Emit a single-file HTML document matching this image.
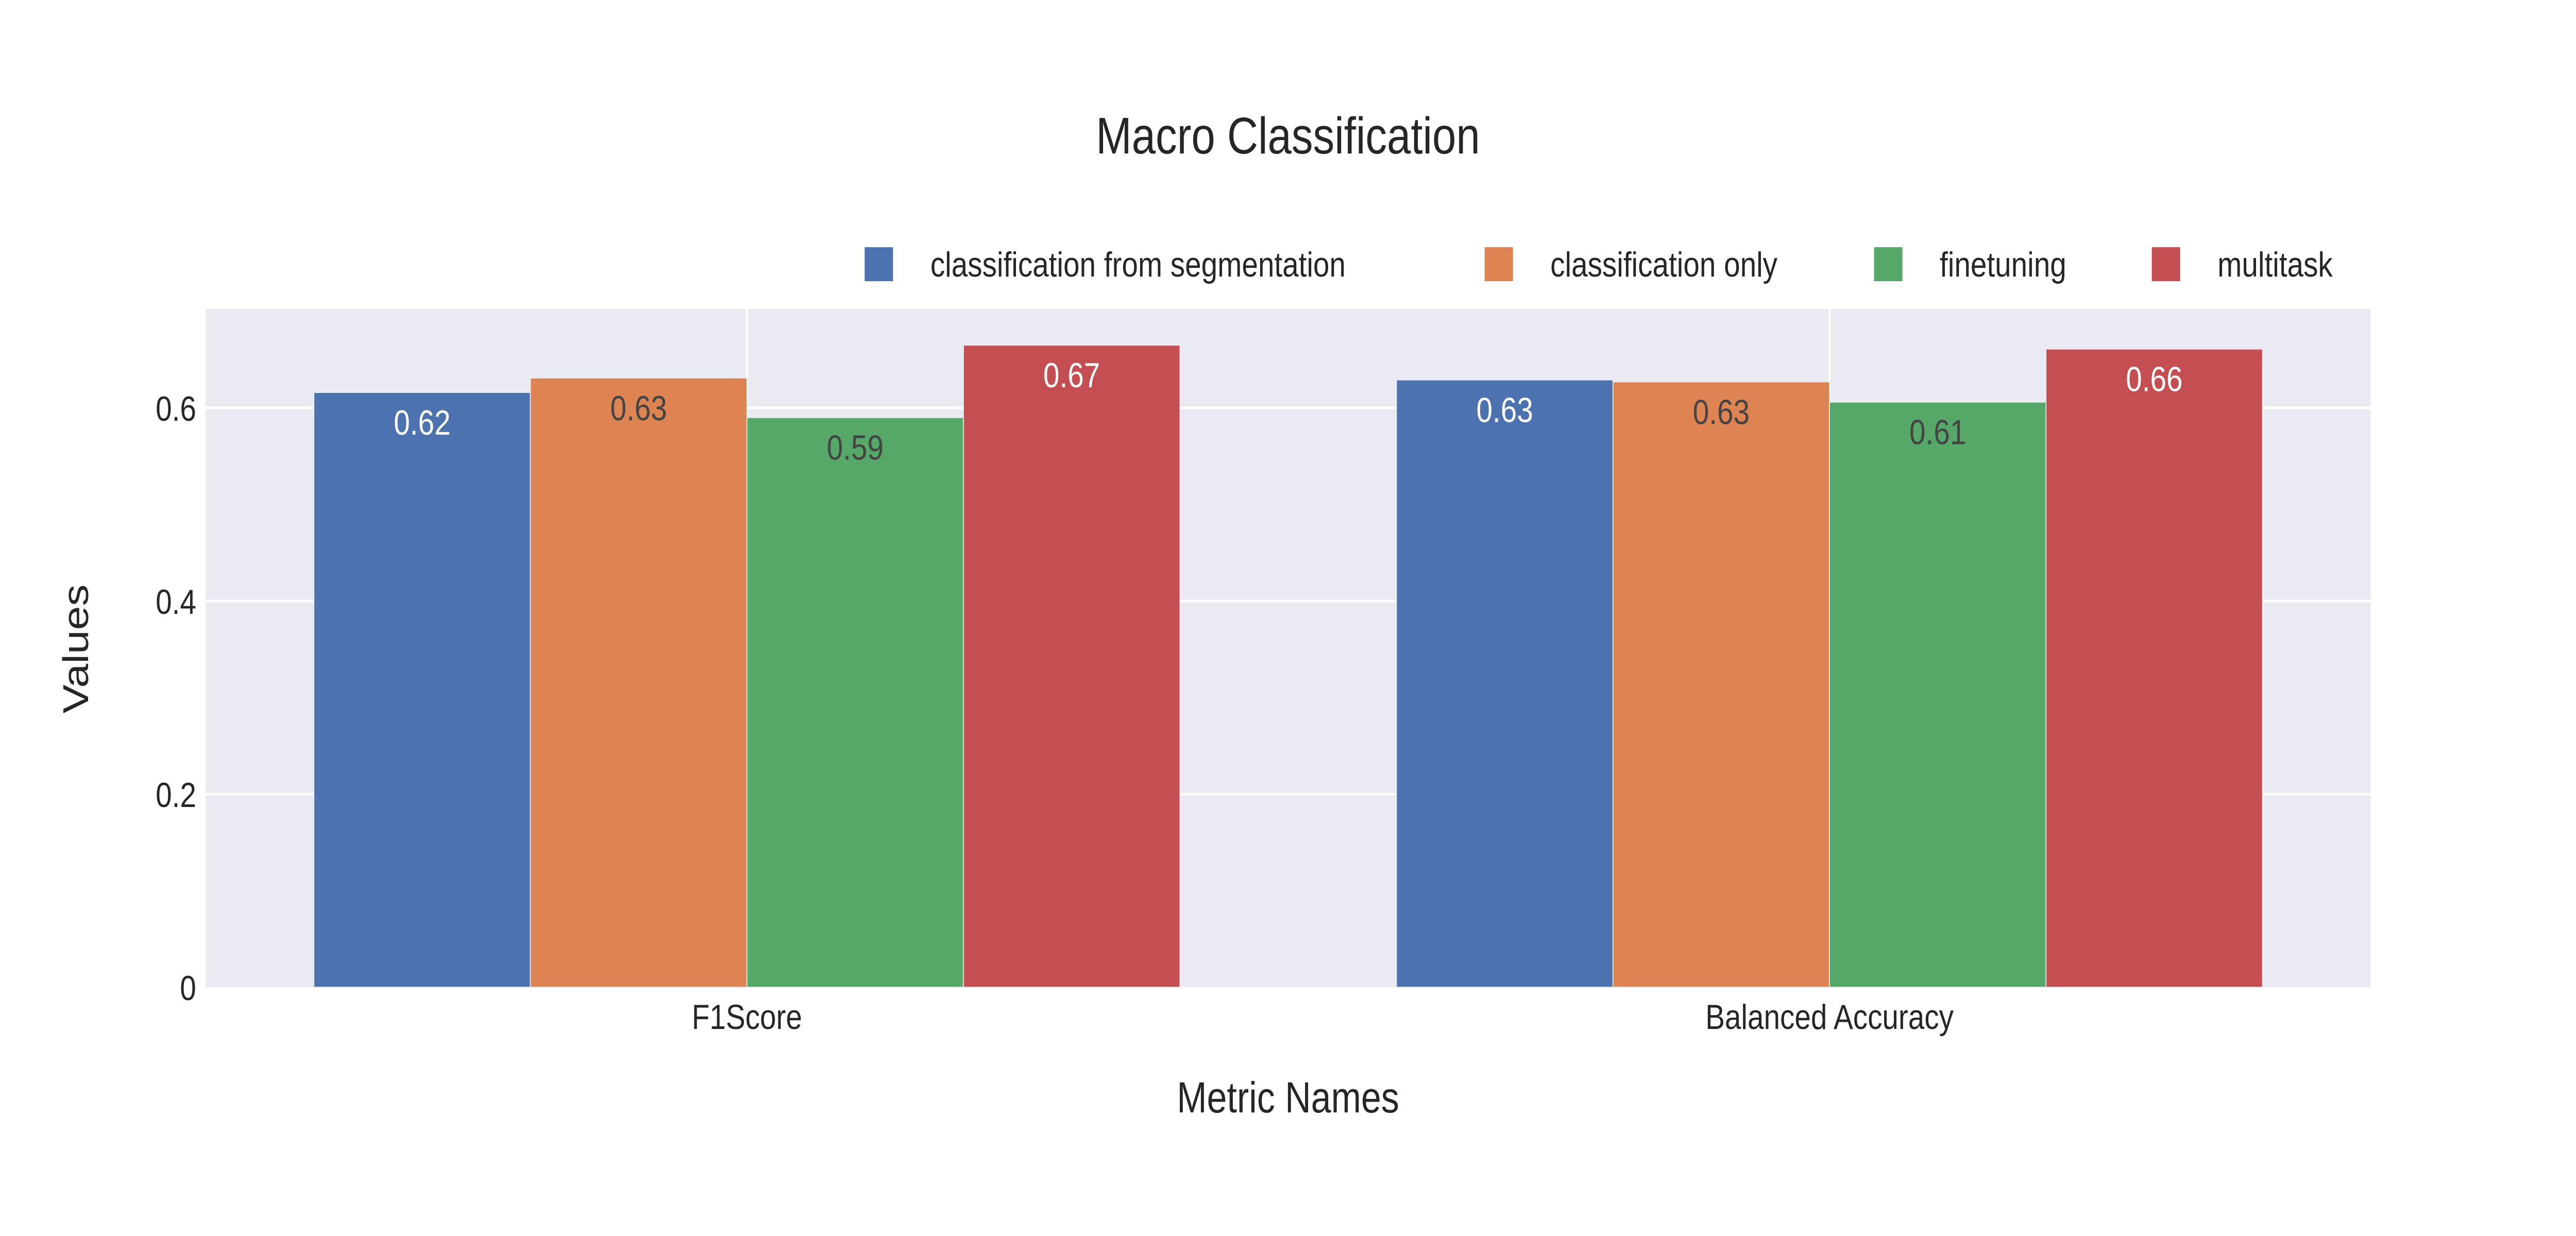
<!DOCTYPE html>
<html><head><meta charset="utf-8"><style>
html,body{margin:0;padding:0;background:#fff;width:100%;height:100%;overflow:hidden}
svg{display:block;font-family:"Liberation Sans",sans-serif;position:fixed;left:0;top:0;width:100vw;height:100vh}
</style></head><body>
<svg id="chart" viewBox="0 0 6000 2400" preserveAspectRatio="none" xmlns="http://www.w3.org/2000/svg">
<rect x="479" y="600" width="5043" height="1317" fill="#EAEAF2"/>
<g id="grid"></g>
<g id="bars"></g>
<g id="labels"></g>
<text x="3000" y="298" font-size="100" text-anchor="middle" fill="#262626">Macro Classification</text>
<text x="3000" y="2160" font-size="84" text-anchor="middle" fill="#262626">Metric Names</text>
<text transform="translate(205,1260) rotate(-90)" font-size="84" text-anchor="middle" fill="#262626">Values</text>
<g id="legend"></g>
</svg>
<script>
const categories = ["F1Score", "Balanced Accuracy"];
const seriesNames = ["classification from segmentation", "classification only", "finetuning", "multitask"];
const seriesA = [0.616, 0.629];
const seriesB = [0.631, 0.627];
const seriesC = [0.590, 0.606];
const seriesD = [0.665, 0.661];
const valueLabels = [["0.62","0.63"],["0.63","0.63"],["0.59","0.61"],["0.67","0.66"]];
const yTicks = [0, 0.2, 0.4, 0.6];
const yTickLabels = ["0", "0.2", "0.4", "0.6"];

const NS = "http://www.w3.org/2000/svg";
const colors = ["#4C72B0", "#DD8452", "#55A868", "#C44E52"];
const textColors = ["#ffffff", "#444444", "#444444", "#ffffff"];
const PL = 479, PR = 5522, PT = 600, PB = 1917, YMAX = 0.7024;
const y = v => PB - v / YMAX * (PB - PT);
const band = (PR - PL) / categories.length;
const xc = i => PL + band * (i + 0.5);
const groupW = band * 0.8, barW = groupW / seriesNames.length;
function mk(tag, attrs, parent) {
  const e = document.createElementNS(NS, tag);
  for (const k in attrs) e.setAttribute(k, attrs[k]);
  parent.appendChild(e); return e;
}
const grid = document.getElementById("grid");
yTicks.forEach((t, i) => {
  if (t > 0) {
    const l = mk("line", {x1: PL, x2: PR, y1: y(t), y2: y(t), stroke: "#fff", "stroke-width": 5}, grid);
    
    
  }
  const tx = mk("text", {x: PL - 22, y: y(t) + 25, "font-size": 68, "text-anchor": "end", fill: "#262626"}, grid);
  tx.textContent = yTickLabels[i];
  
  
});
categories.forEach((c, i) => {
  const l = mk("line", {x1: xc(i), x2: xc(i), y1: PT, y2: PB, stroke: "#fff", "stroke-width": 5}, grid);
  
  
  const tx = mk("text", {x: xc(i), y: 1998, "font-size": 68, "text-anchor": "middle", fill: "#262626"}, grid);
  tx.textContent = c;
  
  
});
const allSeries = [seriesA, seriesB, seriesC, seriesD];
const bars = document.getElementById("bars"), labels = document.getElementById("labels");
allSeries.forEach((s, si) => {
  s.forEach((v, ci) => {
    const x0 = xc(ci) - groupW / 2 + si * barW;
    const r = mk("rect", {x: x0, y: y(v), width: barW, height: PB - y(v), fill: colors[si], stroke: "#EAEAF2", "stroke-width": 2}, bars);
    
    
    const t = mk("text", {x: x0 + barW / 2, y: y(v) + 82, "font-size": 68, "text-anchor": "middle", fill: textColors[si]}, labels);
    t.textContent = valueLabels[si][ci];
    
    
  });
});
const legend = document.getElementById("legend");
const legX = [2014, 3458, 4365, 5012];
seriesNames.forEach((n, i) => {
  const g = mk("g", {}, legend);
  
  
  const sq = mk("rect", {x: legX[i], y: 480, width: 66, height: 66, fill: colors[i]}, g);
  
  
  const t = mk("text", {x: legX[i] + 153, y: 537, "font-size": 68, fill: "#262626"}, g);
  t.textContent = n;
  
  
});
</script>
</body></html>
